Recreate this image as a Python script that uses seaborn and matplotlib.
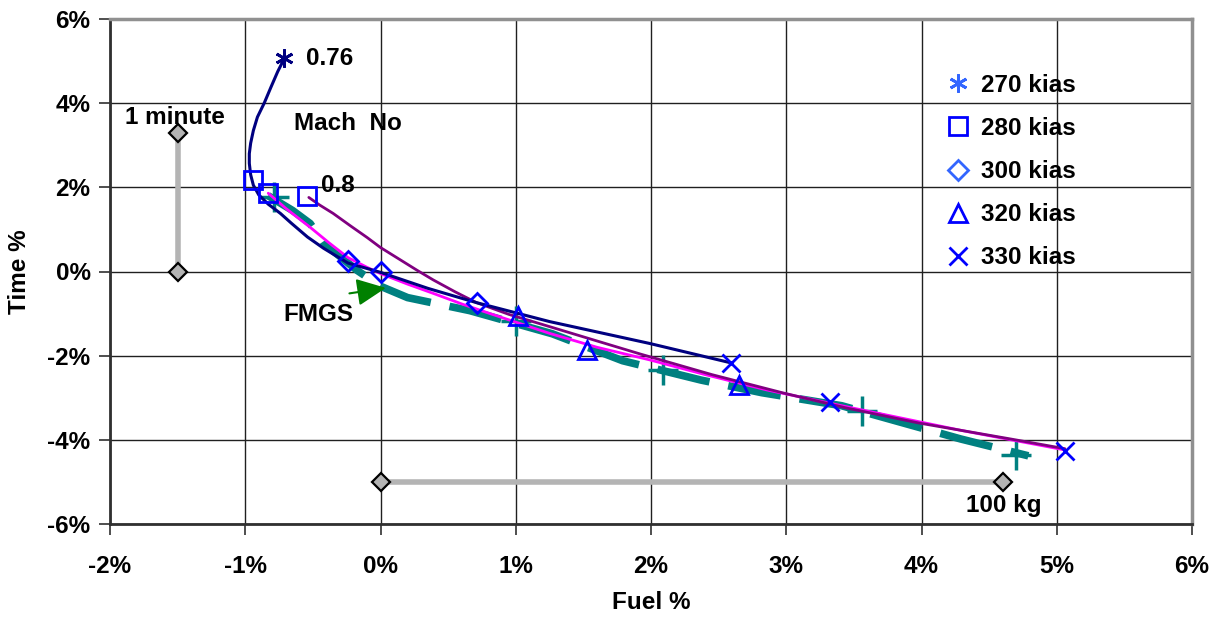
import matplotlib
matplotlib.use("Agg")
import matplotlib.pyplot as plt
from matplotlib.lines import Line2D
from matplotlib.ticker import FuncFormatter, MultipleLocator
import seaborn as sns

# ---------------- data (fuel %, time %) ----------------
# Mach 0.76 curve (navy)
mach076_fuel = [-0.71, -0.76, -0.81, -0.86, -0.91, -0.94, -0.96, -0.97, -0.97, -0.96, -0.94,
                -0.90, -0.83, -0.74, -0.66, -0.54, -0.42, -0.24, 0.0, 0.35, 0.71, 1.25, 1.99, 2.59]
mach076_time = [5.07, 4.75, 4.38, 4.00, 3.67, 3.35, 3.05, 2.80, 2.57, 2.30, 2.05,
                1.82, 1.60, 1.38, 1.15, 0.82, 0.55, 0.20, -0.02, -0.40, -0.74, -1.19, -1.71, -2.17]

# Mach 0.8 curve (purple)
mach08_fuel = [-0.53, -0.45, -0.35, -0.22, -0.10, 0.0, 0.15, 0.27, 0.39, 0.55, 0.71, 0.95,
               1.25, 1.60, 1.92, 2.45, 2.97, 3.44, 3.98, 4.66, 5.06]
mach08_time = [1.76, 1.58, 1.38, 1.08, 0.81, 0.57, 0.27, 0.03, -0.20, -0.48, -0.74, -1.02,
               -1.31, -1.65, -1.96, -2.45, -2.88, -3.24, -3.60, -3.98, -4.21]

# fitted curve (magenta)
fit_fuel = [-0.83, -0.70, -0.52, -0.38, -0.24, -0.10, 0.0, 0.20, 0.39, 0.60, 0.81, 1.25, 1.60,
            1.99, 2.40, 2.85, 3.5, 4.3, 5.06]
fit_time = [1.86, 1.50, 1.05, 0.68, 0.33, 0.10, -0.05, -0.30, -0.52, -0.77, -1.00, -1.47, -1.80,
            -2.10, -2.45, -2.81, -3.25, -3.78, -4.24]

# FMGS curve (teal, dashed)
fmgs_fuel = [-0.83, -0.65, -0.52, -0.42, -0.17, 0.0, 0.20, 0.66, 1.27, 1.79, 2.37,
             2.82, 3.41, 3.81, 4.29, 4.79]
fmgs_time = [1.80, 1.45, 1.14, 0.67, 0.02, -0.35, -0.62, -0.93, -1.48, -2.12, -2.58,
             -2.88, -3.19, -3.55, -3.98, -4.38]
fmgs_cross_fuel = [-0.79, 1.00, 2.09, 3.56, 4.70]
fmgs_cross_time = [1.78, -1.17, -2.35, -3.32, -4.35]

# speed markers
kias_270_fuel = [-0.71]
kias_270_time = [5.07]
kias_280_fuel = [-0.94, -0.83, -0.54]
kias_280_time = [2.17, 1.86, 1.79]
kias_300_fuel = [-0.24, 0.0, 0.71]
kias_300_time = [0.24, 0.0, -0.74]
kias_320_fuel = [1.02, 1.53, 2.65]
kias_320_time = [-1.05, -1.86, -2.69]
kias_330_fuel = [2.59, 3.32, 5.06]
kias_330_time = [-2.17, -3.10, -4.26]

# scale bars
minute_fuel = [-1.5, -1.5]
minute_time = [0.0, 3.3]
kg_fuel = [0.0, 4.6]
kg_time = [-5.0, -5.0]

legend_labels = ["270 kias", "280 kias", "300 kias", "320 kias", "330 kias"]

###############################################################
#                 Plot
###############################################################
sns.set_theme(style="white")
plt.rcParams['font.family'] = ['Liberation Sans', 'DejaVu Sans']
plt.rcParams['font.weight'] = 'bold'
plt.rcParams['text.color'] = 'black'
plt.rcParams['axes.labelcolor'] = 'black'
plt.rcParams['xtick.color'] = 'black'
plt.rcParams['ytick.color'] = 'black'
FS = 17.5

fig, ax = plt.subplots(figsize=(12.19, 6.20), dpi=100)
fig.subplots_adjust(left=110 / 1219, right=1192 / 1219, top=1 - 19 / 620, bottom=1 - 524 / 620)

BLUE = "#0000ff"
LBLUE = "#3366ff"

# scale bars
for fx, fy in [(minute_fuel, minute_time), (kg_fuel, kg_time)]:
    ax.plot(fx, fy, color="#b4b4b4", lw=4, zorder=2, solid_capstyle="butt")
    ax.plot(fx, fy, ls="none", marker="D", ms=9, mfc="#b4b4b4", mec="black", mew=1.6, zorder=3)

# curves
sns.lineplot(x=fmgs_fuel, y=fmgs_time, sort=False, estimator=None, ax=ax, color="#008080",
             lw=5.5, zorder=3)
ax.lines[-1].set_linestyle((0, (7, 2.5)))
sns.lineplot(x=fit_fuel, y=fit_time, sort=False, estimator=None, ax=ax, color="#ff00ff", lw=2, zorder=4)
sns.lineplot(x=mach08_fuel, y=mach08_time, sort=False, estimator=None, ax=ax, color="#800080", lw=2, zorder=4)
sns.lineplot(x=mach076_fuel, y=mach076_time, sort=False, estimator=None, ax=ax, color="#000080", lw=2.2, zorder=5)
ax.plot(fmgs_cross_fuel, fmgs_cross_time, ls="none", marker="+", ms=22, mew=2.5, color="#008080", zorder=3)

# speed markers
ax.plot(kias_270_fuel, kias_270_time, ls="none", marker=(6, 2, 0), ms=13, mew=2, color="#000080", zorder=6)
ax.plot(kias_280_fuel, kias_280_time, ls="none", marker="s", ms=13, mfc="none", mec=BLUE, mew=2, zorder=6)
ax.plot(kias_300_fuel, kias_300_time, ls="none", marker="D", ms=10, mfc="none", mec=BLUE, mew=2, zorder=6)
ax.plot(kias_320_fuel, kias_320_time, ls="none", marker="^", ms=13, mfc="none", mec=BLUE, mew=2, zorder=6)
ax.plot(kias_330_fuel, kias_330_time, ls="none", marker="x", ms=13, mew=2, color=BLUE, zorder=6)

# annotations
txt = dict(fontsize=FS, fontweight="bold", color="black")
ax.text(-0.55, 5.07, "0.76", ha="left", va="center", **txt)
ax.text(-0.44, 2.05, "0.8", ha="left", va="center", **txt)
ax.text(-0.24, 3.52, "Mach  No", ha="center", va="center", **txt)
ax.text(-1.52, 3.67, "1 minute", ha="center", va="center", **txt)
ax.text(-0.46, -1.02, "FMGS", ha="center", va="center", **txt)
ax.text(4.61, -5.57, "100 kg", ha="center", va="center", **txt)
ax.annotate("", xy=(0.06, -0.38), xytext=(-0.25, -0.53),
            arrowprops=dict(arrowstyle="-|>,head_length=1.5,head_width=0.7", color="#008000", lw=1.5),
            zorder=7)

# legend
handles = [
    Line2D([], [], ls="none", marker=(6, 2, 0), ms=13, mew=2, color=LBLUE),
    Line2D([], [], ls="none", marker="s", ms=13, mfc="none", mec=BLUE, mew=2),
    Line2D([], [], ls="none", marker="D", ms=10, mfc="none", mec=LBLUE, mew=2),
    Line2D([], [], ls="none", marker="^", ms=13, mfc="none", mec=BLUE, mew=2),
    Line2D([], [], ls="none", marker="x", ms=13, mew=2, color=BLUE),
]
ax.legend(handles, legend_labels, loc="upper left", bbox_to_anchor=(0.752, 0.935), frameon=False,
          prop=dict(size=FS, weight="bold"), handlelength=1.0, handletextpad=0.45, labelspacing=0.83)

# axes
ax.set_xlim(-2, 6)
ax.set_ylim(-6, 6)
ax.xaxis.set_major_locator(MultipleLocator(1))
ax.yaxis.set_major_locator(MultipleLocator(2))
pct = FuncFormatter(lambda v, _: f"{v:.0f}%")
ax.xaxis.set_major_formatter(pct)
ax.yaxis.set_major_formatter(pct)
ax.grid(True, color="#202020", lw=1)
ax.set_axisbelow(True)
ax.tick_params(axis="both", direction="out", length=8, width=1.2, color="#303030",
               labelsize=FS, bottom=True, left=True)
ax.tick_params(axis="x", pad=14)
ax.tick_params(axis="y", pad=6)
for lab in ax.get_xticklabels() + ax.get_yticklabels():
    lab.set_fontweight("bold")
ax.set_xlabel("Fuel %", fontsize=FS, fontweight="bold", labelpad=10)
ax.set_ylabel("Time %", fontsize=FS, fontweight="bold", labelpad=12)

for side in ["left", "bottom"]:
    ax.spines[side].set_color("#303030")
    ax.spines[side].set_linewidth(2)
for side in ["top", "right"]:
    ax.spines[side].set_color("#909090")
    ax.spines[side].set_linewidth(2.5)

fig.savefig("out.png", dpi=100)
